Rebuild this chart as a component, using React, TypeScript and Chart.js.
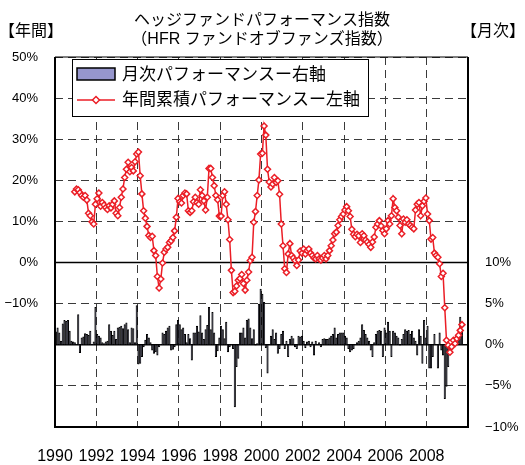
import React, { useEffect, useRef } from 'react';
import { Chart, registerables } from 'chart.js';

Chart.register(...registerables);

// ---------- data ----------
const START_YEAR = 1990;
const END_YEAR = 2010;
const X_STEP = 2;

// Monthly performance (%), from Jan 1990 — right axis
const MONTHLY = [
  1.6, 2.1, 1.5, 0.5, 2.6, 3.0, 2.9, 3.0, 1.7, 0.5, 0.4, 0.3,
  0.1, 3.7, -1.0, 0.9, 1.0, 1.4, 1.3, 1.2, 1.7, 0.1, 0.4, 4.6,
  1.3, 1.1, 0.9, 0.3, 0.2, 0.4, 0.5, 2.5, 1.7, 1.2, 1.7, 0.7,
  2.1, 2.2, 2.3, 2.0, 2.5, 2.7, 1.9, 0.3, 2.1, 2.0, 0.3, 4.8,
  -2.4, -2.3, -1.5, -0.3, 0.6, 1.3, 0.9, 0.3, -0.7, -1.1, -0.9, -1.3,
  -0.3, 0.1, 1.5, 1.3, 1.7, 2.1, 2.3, -0.7, -0.6, -0.3, 2.5, 3.0,
  2.5, 1.9, 2.1, 1.3, 0.3, 1.3, 0.8, -1.9, 1.5, 1.5, 2.3, 1.6,
  3.6, 1.5, 0.7, 1.9, 2.4, 4.6, 1.9, 4.0, 1.5, -1.5, -0.8, 0.9,
  2.3, 1.9, 0.8, 2.8, -0.9, -0.3, 0.1, -0.5, -7.6, -2.7, -1.7, 1.5,
  1.5, 2.1, 0.9, 3.0, 3.2, 2.1, 0.8, 1.9, -0.1, 0.2, 5.0, 6.8,
  6.2, 5.2, -0.4, -3.5, 0.0, 1.1, 1.9, 0.7, 1.5, -1.1, -0.5, 1.3,
  1.7, -0.5, 0.5, -1.5, 0.7, 1.1, 0.8, -0.3, -0.5, 1.1, 1.0, 1.1,
  0.5, -0.4, 0.4, 0.5, -0.3, 0.4, -1.3, 0.5, 0.1, 0.3, -0.3, 0.7,
  0.8, 0.7, 0.7, 0.9, 1.1, 1.3, 2.1, 0.9, 1.3, 1.5, 1.5, 1.5,
  1.1, 0.9, -0.5, -0.9, -0.7, -0.5, 0.1, 0.3, 0.5, 0.9, 2.5, 1.8,
  1.3, 0.9, 0.5, -0.7, -1.5, 0.3, 1.3, 1.7, 1.8, 1.7, -1.5, 2.1,
  1.5, 2.8, 1.7, -1.5, 1.7, 1.5, 1.1, 0.9, -0.1, 0.7, 1.3, 1.9,
  1.7, 1.8, 1.3, 1.7, 0.9, 0.5, -1.3, 1.9, 1.1, -2.3, 3.0, 0.9,
  2.3, -2.9, -2.9, -1.5, 1.3, 0.1, -2.9, 1.5, -0.7, -1.3, -6.6, -5.1,
  -2.7, -0.7, -0.5, 0.5, 0.1, 0.3, 1.1, 3.4, 1.7,
];

// Trailing 12-month cumulative performance (%), first value is Dec 1990 — left axis
const ANNUAL_FIRST_MONTH = 11;
const ANNUAL = [
  17.2, 17.9, 17.7, 17.0, 16.3, 15.9, 16.3, 15.2, 12.0, 11.4,
  9.9, 9.4, 14.2, 15.5, 16.9, 13.7, 14.6, 14.0, 13.4, 12.9,
  13.8, 13.3, 14.2, 15.0, 12.0, 11.4, 13.4, 15.9, 17.9, 20.7,
  22.7, 24.4, 22.1, 23.1, 22.3, 24.5, 26.4, 26.9,
  21.1, 16.7, 12.6, 10.8, 8.8, 6.6, 6.1, 6.4, 2.9, 1.7, -3.4, -6.2,
  -4.0, -0.1, 2.5, 3.3, 3.7, 4.9, 5.3, 6.1, 7.7, 11.0,
  15.6, 14.8, 14.5, 16.3, 16.9, 16.7, 12.6, 12.2, 12.6, 14.8,
  15.9, 14.6, 14.2, 17.7, 16.3, 15.0, 12.8, 15.9, 22.9, 22.9,
  20.7, 18.7, 16.3, 15.3, 11.3, 11.3, 16.3, 17.2, 14.2, 10.4,
  5.6, -1.9, -7.3, -7.0, -5.7, -4.3, -3.9, -2.9, -5.1, -6.7,
  -4.3, -2.3, 0.5, 1.3, 9.8, 12.4, 16.3, 20.1, 26.4, 26.6,
  33.2,
  31.0, 22.7, 19.6, 18.4, 19.1, 20.7, 19.5, 19.9, 16.6, 9.4,
  4.1, -1.5, -2.4, 2.1, 4.6, 1.7, 1.1, 0.5, -0.7, 0.6,
  2.8, 2.3, 3.3, 2.1, 2.9, 3.3, 2.3, 1.7, 1.1, 0.9,
  1.7, 0.9, 0.6, 1.1, 1.7, 0.9, 1.7, 2.9, 4.1, 5.5,
  7.0, 7.4, 9.0, 10.4, 11.2, 11.8, 12.8, 13.6, 12.6,
  11.2, 8.1, 6.9, 6.3, 6.9, 6.5, 4.9, 7.0, 6.5, 5.5,
  5.0, 4.4, 3.7, 5.0, 6.2, 8.6, 9.4, 10.2, 8.9, 7.8,
  7.0, 8.2, 10.2, 9.4, 11.4, 15.5, 13.4, 12.6, 11.0, 9.0,
  7.0, 10.6, 9.8, 10.4, 9.4, 9.0, 8.6, 8.2, 12.8, 14.2,
  14.6, 11.4, 13.8, 14.9, 15.7, 11.8, 10.2, 5.7, 6.1, 2.3,
  1.7, 1.3, -0.3, -3.4, -2.6, -11.0, -18.9, -20.1, -21.8, -20.5,
  -18.9, -19.7, -18.5, -17.7, -16.5, -15.1,
];

const LEFT_MIN = -40;
const LEFT_MAX = 50;
const LEFT_STEP = 10;
const LEFT_LABEL_MIN = -10;
const RIGHT_MIN = -10;
const RIGHT_MAX = 35;
const RIGHT_STEP = 5;
const RIGHT_LABEL_MAX = 10;

const TITLE = ['ヘッジファンドパフォーマンス指数', '（HFR ファンドオブファンズ指数）'];
const LEFT_AXIS_NAME = '【年間】';
const RIGHT_AXIS_NAME = '【月次】';
const LEGEND_BAR = '月次パフォーマンスー右軸';
const LEGEND_LINE = '年間累積パフォーマンスー左軸';

// ---------- style ----------
const FONT = "'Liberation Sans', 'Noto Sans CJK JP', sans-serif";
const RED = 'rgb(235, 30, 38)';
const PURPLE = 'rgb(150, 150, 205)';
const GRID = '#3a3a3a';
const DASH = [8, 5];

const monthX = (i: number) => START_YEAR + (i + 0.5) / 12;
const pct = (v: number) => (v < 0 ? '\u2212' + Math.abs(v) : String(v)) + '%';

const decorPlugin = {
  id: 'decor',
  beforeDatasetsDraw(chart: any) {
    const { ctx, chartArea: a, scales } = chart;
    ctx.save();
    ctx.strokeStyle = '#000';
    ctx.lineWidth = 1.5;
    [scales.y.getPixelForValue(0), scales.y1.getPixelForValue(0)].forEach((py: number) => {
      ctx.beginPath();
      ctx.moveTo(a.left, py);
      ctx.lineTo(a.right, py);
      ctx.stroke();
    });
    ctx.restore();
  },
  afterDatasetsDraw(chart: any) {
    const { ctx, chartArea: a } = chart;
    ctx.save();
    // frame
    ctx.strokeStyle = '#000';
    ctx.lineWidth = 2;
    ctx.beginPath();
    ctx.moveTo(a.left, a.top);
    ctx.lineTo(a.left, a.bottom);
    ctx.lineTo(a.right, a.bottom);
    ctx.lineTo(a.right, a.top);
    ctx.stroke();
    ctx.lineWidth = 1.2;
    ctx.beginPath();
    ctx.moveTo(a.left, a.top);
    ctx.lineTo(a.right, a.top);
    ctx.stroke();

    // legend
    const lx = a.left + 17;
    const ly = a.top + 2;
    ctx.fillStyle = '#fff';
    ctx.fillRect(lx, ly, 296, 57);
    ctx.lineWidth = 1;
    ctx.strokeStyle = '#000';
    ctx.strokeRect(lx + 0.5, ly + 0.5, 296, 57);

    ctx.fillStyle = PURPLE;
    ctx.fillRect(lx + 5, ly + 9, 38, 12);
    ctx.lineWidth = 1.5;
    ctx.strokeRect(lx + 5, ly + 9, 38, 12);

    const lineY = ly + 41;
    ctx.strokeStyle = RED;
    ctx.lineWidth = 1.5;
    ctx.beginPath();
    ctx.moveTo(lx + 5, lineY);
    ctx.lineTo(lx + 43, lineY);
    ctx.stroke();
    const cx = lx + 24;
    ctx.fillStyle = '#fff';
    ctx.beginPath();
    ctx.moveTo(cx, lineY - 3.5);
    ctx.lineTo(cx + 3.5, lineY);
    ctx.lineTo(cx, lineY + 3.5);
    ctx.lineTo(cx - 3.5, lineY);
    ctx.closePath();
    ctx.fill();
    ctx.stroke();

    ctx.fillStyle = '#000';
    ctx.font = `17px ${FONT}`;
    ctx.textAlign = 'left';
    ctx.textBaseline = 'middle';
    ctx.fillText(LEGEND_BAR, lx + 50, ly + 16);
    ctx.fillText(LEGEND_LINE, lx + 50, lineY);
    ctx.restore();
  },
  afterDraw(chart: any) {
    const { ctx } = chart;
    ctx.save();
    ctx.fillStyle = '#000';
    ctx.textBaseline = 'middle';
    ctx.textAlign = 'center';
    ctx.font = `16px ${FONT}`;
    ctx.fillText(TITLE[0], 262, 21);
    ctx.fillText(TITLE[1], 262, 40);
    ctx.fillText(LEFT_AXIS_NAME, 31, 32);
    ctx.fillText(RIGHT_AXIS_NAME, 493, 32);
    ctx.restore();
  },
};

export default function App() {
  const canvasRef = useRef<HTMLCanvasElement | null>(null);

  useEffect(() => {
    document.body.style.margin = '0';
    const canvas = canvasRef.current;
    if (!canvas) return;

    const monthlyPoints = MONTHLY.map((v, i) => ({ x: monthX(i), y: v }));
    const annualPoints = ANNUAL.map((v, k) => ({ x: monthX(ANNUAL_FIRST_MONTH + k), y: v }));

    const chart = new Chart(canvas, {
      type: 'bar',
      data: {
        datasets: [
          {
            type: 'line',
            label: LEGEND_LINE,
            data: annualPoints as any,
            yAxisID: 'y',
            borderColor: RED,
            borderWidth: 1.5,
            pointStyle: 'rectRot',
            pointRadius: 3,
            pointBorderWidth: 1.5,
            pointBackgroundColor: '#fff',
            pointBorderColor: RED,
            tension: 0,
            order: 0,
          } as any,
          {
            type: 'bar',
            label: LEGEND_BAR,
            data: monthlyPoints as any,
            yAxisID: 'y1',
            backgroundColor: PURPLE,
            borderColor: '#000',
            borderWidth: 1,
            barPercentage: 1.25,
            categoryPercentage: 1,
            order: 1,
          } as any,
        ],
      },
      options: {
        animation: false,
        responsive: false,
        devicePixelRatio: 1,
        layout: { padding: { top: 57, left: 0, right: 0, bottom: 0 } },
        plugins: {
          legend: { display: false },
          title: { display: false },
          tooltip: { enabled: false },
        },
        scales: {
          x: {
            type: 'linear',
            min: START_YEAR,
            max: END_YEAR,
            offset: false,
            ticks: {
              stepSize: X_STEP,
              autoSkip: false,
              maxRotation: 0,
              padding: 20,
              color: '#000',
              font: { size: 16, family: FONT },
              callback: (v: any) => (Number(v) < END_YEAR ? String(v) : ''),
            },
            grid: { color: GRID, lineWidth: 1, drawTicks: false, offset: false },
            border: { display: false, dash: DASH },
            afterFit: (s: any) => {
              s.height = 38;
            },
          },
          y: {
            type: 'linear',
            position: 'left',
            min: LEFT_MIN,
            max: LEFT_MAX,
            ticks: {
              stepSize: LEFT_STEP,
              padding: 17,
              color: '#000',
              font: { size: 13, family: FONT },
              callback: (v: any) => (Number(v) >= LEFT_LABEL_MIN ? pct(Number(v)) : ''),
            },
            grid: { color: GRID, lineWidth: 1, drawTicks: false },
            border: { display: false, dash: DASH },
            afterFit: (s: any) => {
              s.width = 55;
            },
          },
          y1: {
            type: 'linear',
            position: 'right',
            min: RIGHT_MIN,
            max: RIGHT_MAX,
            ticks: {
              stepSize: RIGHT_STEP,
              padding: 17,
              color: '#000',
              font: { size: 13, family: FONT },
              callback: (v: any) => (Number(v) <= RIGHT_LABEL_MAX ? pct(Number(v)) : ''),
            },
            grid: { display: false, drawTicks: false },
            border: { display: false },
            afterFit: (s: any) => {
              s.width = 57;
            },
          },
        },
      } as any,
      plugins: [decorPlugin],
    });

    return () => {
      chart.destroy();
    };
  }, []);

  return (
    <div style={{ width: 525, height: 465 }}>
      <canvas ref={canvasRef} width={525} height={465} style={{ display: 'block' }} />
    </div>
  );
}
